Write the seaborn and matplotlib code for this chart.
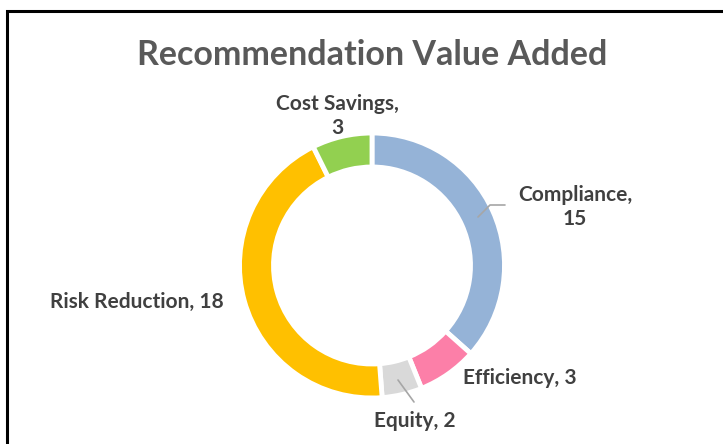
import matplotlib
matplotlib.use("Agg")
import matplotlib.pyplot as plt
import seaborn as sns
from matplotlib.patches import Rectangle

categories = ["Compliance", "Efficiency", "Equity", "Risk Reduction", "Cost Savings"]
values = [15, 3, 2, 18, 3]
colors = ["#95B3D7", "#FC7FA8", "#D9D9D9", "#FFC000", "#92D050"]
title = "Recommendation Value Added"

sns.set_theme(style="white")
plt.rcParams["font.family"] = ["Lato", "DejaVu Sans"]

W, H = 723, 444
fig = plt.figure(figsize=(W / 100, H / 100), dpi=100)
ax = fig.add_axes([0, 0, 1, 1])

def Y(py):
    return H - py

cx, cy, R = 372, Y(265.5), 132.5
wedges, _ = ax.pie(values, colors=colors, startangle=90, counterclock=False,
                   center=(cx, cy), radius=R, frame=True,
                   wedgeprops=dict(width=34, edgecolor="white", linewidth=3.5))
ax.set_xlim(0, W)
ax.set_ylim(0, H)
ax.set_aspect("auto")
ax.axis("off")

# frame border
ax.add_patch(Rectangle((7, -10), W, Y(11) + 10, fill=False, edgecolor="black", linewidth=2.2))

ax.text(372, Y(55), title, ha="center", va="center", fontsize=24.5, fontweight="bold", color="#595959")

lab = dict(ha="center", va="center", fontsize=15, fontweight="bold", color="#404040", linespacing=1.25)
ax.text(337, Y(116), f"{categories[4]},\n{values[4]}", **lab)
ax.text(575, Y(207), f"{categories[0]},\n{values[0]}", **lab)
ax.text(137, Y(302), f"{categories[3]}, {values[3]}", **lab)
ax.text(520, Y(378), f"{categories[1]}, {values[1]}", **lab)
ax.text(415, Y(421), f"{categories[2]}, {values[2]}", **lab)

# leader lines
ax.plot([478, 490, 505], [Y(217), Y(205), Y(205)], color="#A6A6A6", linewidth=1.2)
ax.plot([398, 414], [Y(380), Y(402)], color="#A6A6A6", linewidth=1.2)

fig.savefig("out.png", dpi=100, facecolor="white")
